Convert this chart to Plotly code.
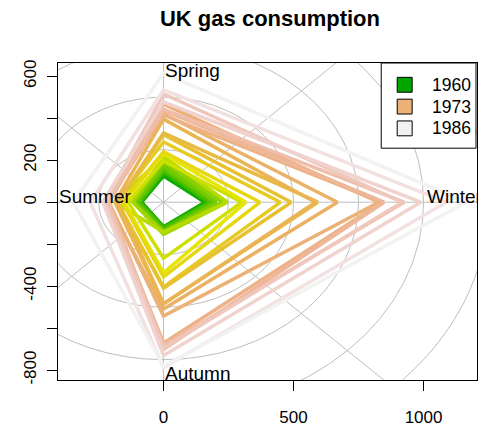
import colorsys
import numpy as np
import plotly.graph_objects as go

# ---- data: UK quarterly gas consumption (millions of therms) ----
years = list(range(1960, 1987))
winter = [160.1, 160.1, 169.7, 187.3, 176.1, 185.7, 200.1, 204.9, 227.3, 244.9,
          244.9, 301.0, 317.0, 371.4, 449.9, 491.5, 593.9, 584.3, 669.2, 827.7,
          840.5, 848.5, 925.3, 917.3, 989.4, 1087.0, 1163.9]
spring = [129.7, 124.9, 140.9, 144.1, 147.3, 155.3, 161.7, 176.1, 195.3, 214.5,
          216.1, 196.9, 230.5, 240.1, 286.6, 321.8, 329.8, 395.4, 421.0, 467.5,
          414.6, 437.0, 443.4, 515.5, 477.1, 534.7, 613.1]
summer = [84.8, 84.8, 89.7, 92.9, 89.7, 99.3, 102.5, 112.1, 115.3, 118.5,
          188.9, 136.1, 152.1, 158.5, 179.3, 177.7, 176.1, 187.3, 216.1, 209.7,
          217.7, 209.7, 214.5, 224.1, 233.7, 281.8, 347.4]
autumn = [120.1, 116.9, 123.3, 120.1, 123.3, 131.3, 136.1, 140.9, 142.5, 153.7,
          142.5, 267.3, 336.2, 355.4, 403.4, 409.8, 483.5, 485.1, 509.1, 542.7,
          670.8, 701.2, 683.6, 694.8, 730.0, 787.6, 782.0]
quarter_labels = ["Winter", "Spring", "Summer", "Autumn"]
quarter_angles = [0, 90, 180, 270]
legend_labels = ["1960", "1973", "1986"]
grid_radii = [250, 500, 750, 1000, 1250]
grid_angles = [0, 45, 90, 135, 180, 225, 270, 315]
x_ticks = [0, 500, 1000]
y_ticks = [-800, -600, -400, -200, 0, 200, 400, 600]
y_ticktext = ["-800", "", "-400", "", "0", "200", "", "600"]


# ---- style ----
def terrain_colors(n):
    k = n // 2
    hs = list(np.linspace(4 / 12, 2 / 12, k)) + list(np.linspace(2 / 12, 0, n - k + 1)[1:])
    ss = [1.0] * k + list(np.linspace(1, 0, n - k + 1)[1:])
    vs = list(np.linspace(0.65, 0.9, k)) + list(np.linspace(0.9, 0.95, n - k + 1)[1:])
    out = []
    for h, s, v in zip(hs, ss, vs):
        r, g, b = colorsys.hsv_to_rgb(h, s, v)
        out.append("#%02X%02X%02X" % (int(r * 255 + 0.5), int(g * 255 + 0.5), int(b * 255 + 0.5)))
    return out


line_colors = terrain_colors(len(years))
legend_colors = ["#00A600", "#ECB176", "#F2F2F2"]
GRID = "#BEBEBE"
FONT = "Liberation Sans, Arial, sans-serif"

W, H = 478, 427
ML, MR, MT, MB = 58, 0, 63, 44
XR = [-406, 1205.6]
YR = [-847, 663]


def px(xp):  # page pixel x -> paper fraction
    return (xp - ML) / (W - ML - MR)


def py(yp):  # page pixel y -> paper fraction
    return (H - MB - yp) / (H - MT - MB)


fig = go.Figure()

cos_a = np.cos(np.radians(quarter_angles))
sin_a = np.sin(np.radians(quarter_angles))
for i, yr in enumerate(years):
    vals = np.array([winter[i], spring[i], summer[i], autumn[i]])
    xs = list(vals * cos_a) + [vals[0] * cos_a[0]]
    ys = list(vals * sin_a) + [vals[0] * sin_a[0]]
    fig.add_trace(go.Scatter(
        x=xs, y=ys, mode="lines", name=str(yr), showlegend=False,
        line=dict(color=line_colors[i], width=3.5), hoverinfo="name",
    ))

shapes = []
for r in grid_radii:
    shapes.append(dict(type="circle", xref="x", yref="y", x0=-r, x1=r, y0=-r, y1=r,
                       line=dict(color=GRID, width=1), layer="below"))
rmax = max(grid_radii)
for a in grid_angles:
    shapes.append(dict(type="line", xref="x", yref="y", x0=0, y0=0,
                       x1=rmax * np.cos(np.radians(a)), y1=rmax * np.sin(np.radians(a)),
                       line=dict(color=GRID, width=1), layer="below"))

# legend box (drawn like R's legend with filled boxes)
shapes.append(dict(type="rect", xref="paper", yref="paper",
                   x0=px(382), x1=px(477), y0=py(149), y1=py(63),
                   line=dict(color="black", width=1), fillcolor="white", layer="above"))
annotations = []
leg_y = [85, 107, 129]
for lab, col, yc in zip(legend_labels, legend_colors, leg_y):
    shapes.append(dict(type="rect", xref="paper", yref="paper",
                       x0=px(398), x1=px(413), y0=py(yc + 7.5), y1=py(yc - 7.5),
                       line=dict(color="black", width=1), fillcolor=col, layer="above"))
    annotations.append(dict(text=lab, xref="paper", yref="paper", x=px(432), y=py(yc),
                            xanchor="left", yanchor="middle", showarrow=False, borderpad=0,
                            font=dict(family=FONT, size=17.5, color="black")))

# quarter labels
label_pos = {"Winter": (1010, 27), "Spring": (0, 629), "Summer": (-405, 27), "Autumn": (0, -817)}
for lab in quarter_labels:
    x, y = label_pos[lab]
    annotations.append(dict(text=lab, x=x, y=y, xref="x", yref="y", xanchor="left",
                            yanchor="middle", showarrow=False, borderpad=0,
                            font=dict(family=FONT, size=19, color="black")))

fig.update_layout(
    width=W, height=H,
    margin=dict(l=ML, r=MR, t=MT, b=MB, pad=0),
    paper_bgcolor="white", plot_bgcolor="white",
    title=dict(text="<b>UK gas consumption</b>", x=270 / W, xanchor="center",
               y=1 - 18 / H, yanchor="middle", yref="container",
               font=dict(family=FONT, size=22, color="black")),
    xaxis=dict(range=XR, tickvals=x_ticks, ticktext=[str(v) for v in x_ticks],
               showgrid=False, zeroline=False, showline=True, mirror=True,
               linecolor="black", linewidth=1, ticks="outside", ticklen=10,
               tickcolor="black", tickfont=dict(family=FONT, size=17, color="black"),
               ticklabelstandoff=12),
    yaxis=dict(range=YR, tickvals=y_ticks, ticktext=y_ticktext,
               showgrid=False, zeroline=False, showline=True, mirror=True,
               linecolor="black", linewidth=1, ticks="outside", ticklen=10,
               tickcolor="black", tickangle=-90,
               tickfont=dict(family=FONT, size=17, color="black"),
               ticklabelstandoff=4),
    shapes=shapes, annotations=annotations, showlegend=False,
)

# the page body gets no margin so the 478x427 figure fills the window exactly
fig.write_html("out.html", config={"displayModeBar": False},
               post_script="document.body.style.margin='0';document.body.style.overflow='hidden';")
